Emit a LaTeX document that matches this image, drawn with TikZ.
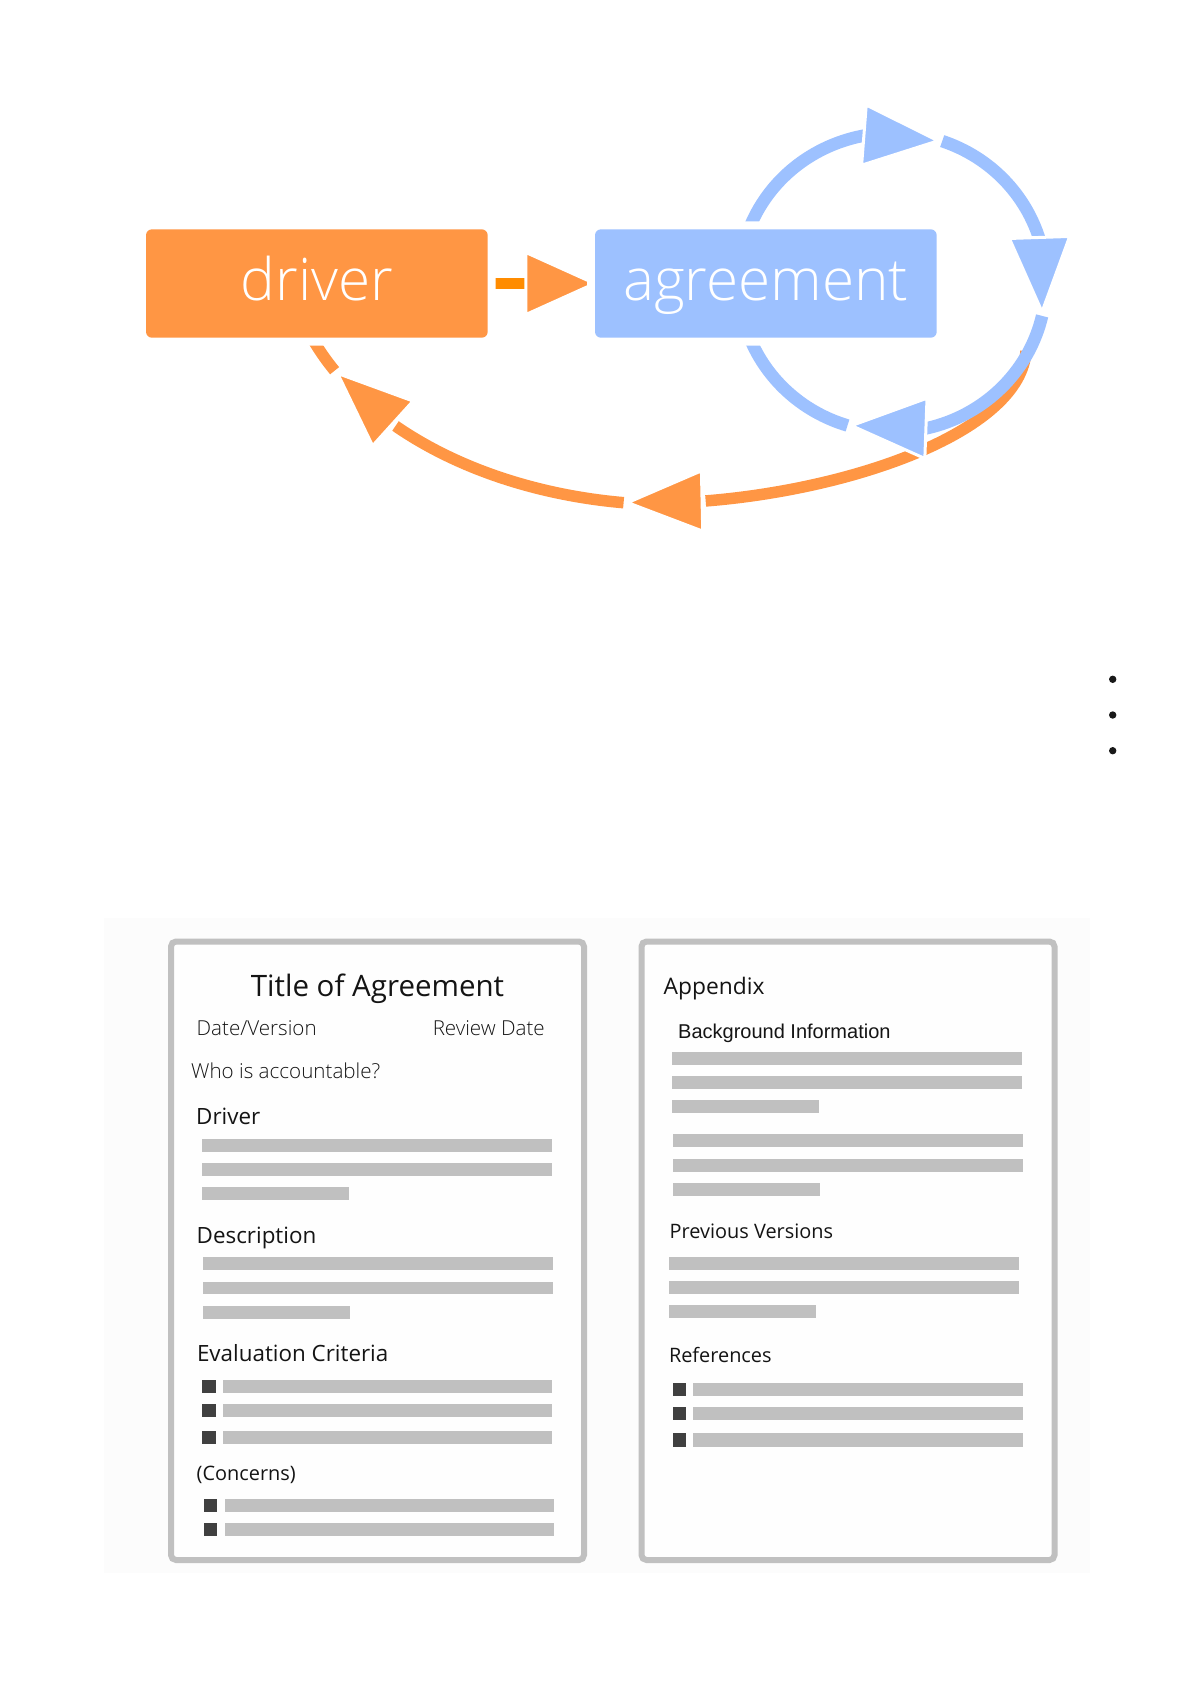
\documentclass[tikz,border=0pt]{standalone}
\usepackage{fontspec}
\setmainfont{Open Sans}
\newfontfamily\oslight{Open Sans Light}
\newfontfamily\arialf{Liberation Sans}
\usetikzlibrary{arrows.meta,bending}
\pgfdeclarelayer{back}
\pgfdeclarelayer{lines}
\pgfsetlayers{back,lines,main}
\definecolor{drvorange}{RGB}{255,150,68}
\definecolor{dashorange}{RGB}{255,140,0}
\definecolor{agrblue}{RGB}{157,193,255}
\definecolor{bargray}{RGB}{192,192,192}
\definecolor{bulletgray}{RGB}{64,64,64}
\definecolor{txtblack}{RGB}{20,20,20}
\tikzset{
  box/.style={rounded corners=6pt, minimum width=341.7pt, minimum height=108.4pt,
    inner sep=0pt, text=white, font=\oslight\fontsize{58.5}{62}\selectfont,
    text height=46pt, text depth=11.6pt,
    preaction={draw=white, line width=16pt}},
  otip/.style={-{Triangle[flex, length=80pt, width=64pt, fill=drvorange, color=white, line width=3pt]}},
  btip/.style={-{Triangle[flex, length=80pt, width=64pt, fill=agrblue, color=white, line width=3pt]}},
  oline/.style={draw=drvorange, line width=11.5pt},
  bline/.style={draw=agrblue, line width=12.5pt},
  dashline/.style={draw=dashorange, line width=11pt},
  docframe/.style={draw=bargray, line width=6pt, rounded corners=5pt, fill=black!0.5},
  bar/.style={fill=bargray},
  bullet/.style={fill=bulletgray},
  txt/.style={inner sep=0pt, text=txtblack},
  ttl/.style={txt, font=\fontsize{29.5}{34}\selectfont},
  lighttxt/.style={txt, font=\oslight\fontsize{20.6}{24}\selectfont},
  head/.style={txt, font=\fontsize{22.4}{26}\selectfont},
  sub/.style={txt, font=\fontsize{19.9}{23}\selectfont},
  arialtxt/.style={txt, font=\arialf\fontsize{20}{24}\selectfont},
  dotnode/.style={circle, fill=black!90, minimum size=7.4pt, inner sep=0pt}
}
\begin{document}
\begin{tikzpicture}[x=1pt, y=-1pt]
\useasboundingbox (0,0) rectangle (1190,1684);
\begin{pgfonlayer}{back}
  \fill[white] (0,0) rectangle (1190,1684);
  \fill[black!1] (104,918) rectangle (1090,1573);
\end{pgfonlayer}

% main nodes
\node[box, fill=drvorange] (driver) at (316.85,283.5) {driver};
\node[box, fill=agrblue] (agreement) at (765.85,283.5) {agreement};

% loop coordinates
\coordinate (os)  at (1026,351);
\coordinate (ot2) at (623.6,502.7);
\coordinate (ot1) at (334.6,370.7);
\coordinate (bs)  at (748.1,231.4);
\coordinate (bt)  at (942.2,141.1);
\coordinate (br)  at (1042.1,315.9);
\coordinate (bb)  at (847.5,425.5);

\begin{pgfonlayer}{lines}
  % driver -> agreement
  \draw[dashline, -{Triangle[length=74pt, width=66pt, fill=drvorange, color=white, line width=3pt]}]
    (driver.east) -- ([xshift=3.5pt]agreement.west);
  % orange return loop (agreement -> driver)
  \draw[oline] (ot1) arc[start angle=151.2, end angle=160, x radius=386.6, y radius=258.8];
  \draw[oline, otip] (ot2) arc[start angle=97.4, end angle=151.2, x radius=386.6, y radius=258.8];
  \draw[oline, otip] (os) .. controls (1020,445) and (790,510) .. (ot2);
  % blue loop round agreement
  \draw[bline] (bb) arc[start angle=107, end angle=160, x radius=153.6, y radius=149.5];
  \draw[bline, btip] (br) arc[start angle=12.9, end angle=107, x radius=153.6, y radius=149.5];
  \draw[bline, btip] (bt) arc[start angle=-71.1, end angle=12.9, x radius=153.6, y radius=149.5];
  \draw[bline, btip] (bs) arc[start angle=-160, end angle=-71.1, x radius=153.6, y radius=149.5];
\end{pgfonlayer}

% three dots
\node[dotnode] (dot1) at (1112.7,679.3) {};
\node[dotnode] (dot2) at (1112.7,715) {};
\node[dotnode] (dot3) at (1112.7,750.7) {};

% left document
\draw[docframe] (171,941.5) rectangle (584,1560);
\node[ttl, anchor=base] (tTitle) at (377.5,996) {Title of Agreement};
\node[lighttxt, anchor=base west] (tDate) at (196.5,1035) {Date/Version};
\node[lighttxt, anchor=base east] (tReview) at (545,1035) {Review Date};
\node[lighttxt, anchor=base west] (tWho) at (191,1078) {Who is accountable?};
\node[head, anchor=base west] (tDriver) at (196,1124) {Driver};
\node[head, anchor=base west] (tDesc) at (196.5,1243) {Description};
\node[head, anchor=base west] (tEval) at (196.8,1361.7) {Evaluation Criteria};
\node[sub, anchor=base west] (tConc) at (196.5,1480) {(Concerns)};
\fill[bar] (202,1139) rectangle (552,1152);
\fill[bar] (202,1163.3) rectangle (552,1176);
\fill[bar] (202,1186.7) rectangle (349.3,1200);
\fill[bar] (203.3,1257.3) rectangle (553.3,1270);
\fill[bar] (203.3,1281.7) rectangle (553.3,1294.3);
\fill[bar] (203.3,1306) rectangle (350,1319.3);
\foreach \ya/\yb in {1380/1393, 1404/1417, 1431/1444}{
  \fill[bullet] (202,\ya) rectangle (216,\yb);
  \fill[bar] (223,\ya) rectangle (552,\yb);
}
\foreach \ya/\yb in {1499/1512, 1523/1536}{
  \fill[bullet] (204,\ya) rectangle (217,\yb);
  \fill[bar] (225,\ya) rectangle (554,\yb);
}

% right document
\draw[docframe] (641.5,941.5) rectangle (1054.5,1560);
\node[txt, font=\fontsize{22.8}{27}\selectfont, anchor=base west] (tApp) at (663.5,994) {Appendix};
\node[arialtxt, anchor=base west] (tBg) at (678,1038) {Background Information};
\node[sub, anchor=base west] (tPrev) at (669.5,1238) {Previous Versions};
\node[sub, anchor=base west] (tRef) at (668.8,1362) {References};
\fill[bar] (672,1052) rectangle (1022,1064.7);
\fill[bar] (672,1076) rectangle (1022,1089);
\fill[bar] (672,1100) rectangle (819,1113);
\fill[bar] (673,1134) rectangle (1023,1147);
\fill[bar] (673,1159) rectangle (1023,1172);
\fill[bar] (673,1183) rectangle (820,1196);
\fill[bar] (669,1257) rectangle (1019,1269.7);
\fill[bar] (669,1281) rectangle (1019,1293.7);
\fill[bar] (669,1305) rectangle (816,1318);
\foreach \ya/\yb in {1383/1396, 1407/1420, 1433/1446.7}{
  \fill[bullet] (673,\ya) rectangle (686,\yb);
  \fill[bar] (693,\ya) rectangle (1023,\yb);
}
\end{tikzpicture}
\end{document}
